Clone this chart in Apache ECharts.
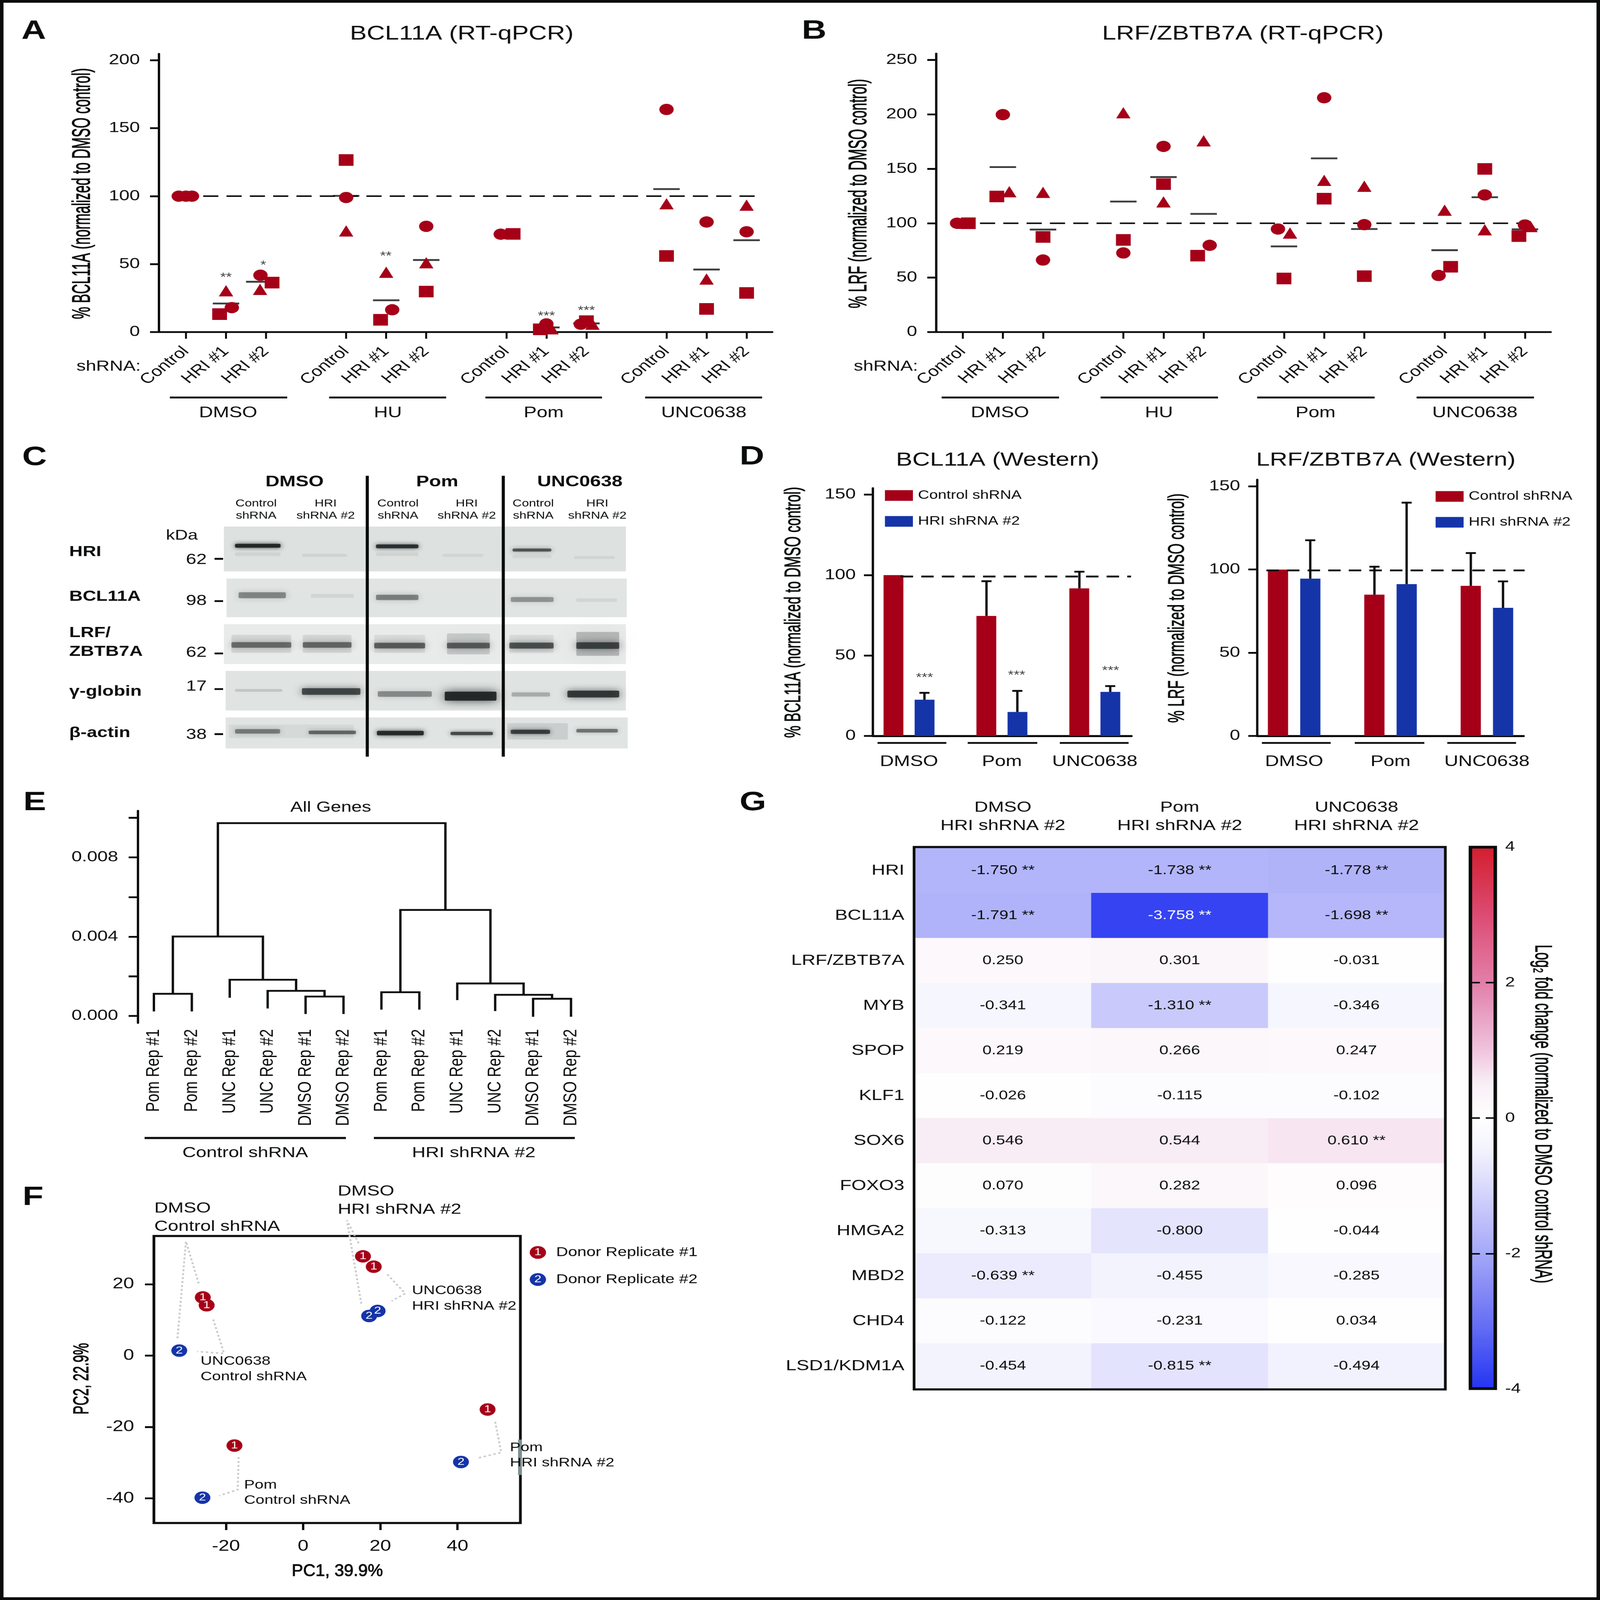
<!DOCTYPE html>
<html><head><meta charset="utf-8">
<style>html,body{margin:0;padding:0;background:#fff;overflow:hidden;width:100%;height:100%}#c{width:4117px;height:5257px;transform-origin:0 0}</style>
<script src="https://cdn.jsdelivr.net/npm/echarts@6/dist/echarts.min.js"></script>
</head><body><div id="c"></div>
<script>
// ---------- DATA ----------
const shLabels = ['Control','HRI #1','HRI #2'];
const qpcrTicks = [0,1,2,4,5,6,8,9,10,12,13,14];
const aCircle = [[-0.18,100],[0,100],[0.15,100],[1.145,18],[1.86,41.8],[4,99],[5.15,16.4],[6,77.8],[7.86,72],[9,6],[9.86,5.8],[12,163.8],[13,81],[14,73.8]];
const aTriangle = [[1,30.4],[1.85,31.4],[4,74.4],[5,44],[6,51],[8,72.4],[9.13,2.4],[10.15,5.8],[12,94.4],[13,39],[14,93.4]];
const aSquare = [[0.84,13.2],[2.15,36.4],[4,126.6],[4.86,9],[6,29.8],[8.17,72.2],[8.85,2],[10,8],[12,56],[13,17],[14,28.8]];
const aMean = [[1,21],[1.83,37],[4,100.2],[5,23.4],[6,53],[9,3.4],[10,6.4],[12,105.2],[13,46],[14,67.6]];
const aStars = [[1,41.6,'**'],[1.93,50.4,'*'],[4.99,57.2,'**'],[9,13.2,'***'],[10,17.2,'***']];
const bCircle = [[-0.14,100],[1,199.8],[2,66.2],[4,72.7],[5,170.6],[6.15,79.7],[7.85,94.7],[9,215.3],[10,98.7],[11.85,52],[13,126],[14,98.4]];
const bTriangle = [[0,100],[1.16,129],[2,128.4],[4,201.5],[5,119.6],[6,175.8],[8.15,91],[9,139.4],[10,134],[12,112],[13,94],[14.14,97]];
const bSquare = [[0.14,100],[0.85,124.6],[2,87.4],[4,84.7],[5,135.9],[5.85,70.2],[8,49.2],[9,122.6],[10,51.4],[12.15,60],[13,149.9],[13.85,88.2]];
const bMean = [[1,151.6],[2,94.2],[4,119.9],[5,142.4],[6,108.6],[8,78.7],[9,159.6],[10,94.7],[12,75.2],[13,123.9],[14,94.4]];
const westernGroups = ['DMSO','Pom','UNC0638'];
const dLeftControl = [100,74.6,91.7];
const dLeftHri = [22.5,14.9,27.4];
const dLeftControlErr = [null,96.2,102.1];
const dLeftHriErr = [26.8,28,31];
const dLeftStars = [[0.167,37.4,'***'],[1.158,38.8,'***'],[2.17,41.8,'***']];
const dRightControl = [100,84.9,90.2];
const dRightHri = [94.5,91.2,77];
const dRightControlErr = [null,101.7,109.9];
const dRightHriErr = [117.6,140.2,92.9];
const leafLabels = ['Pom Rep #1','Pom Rep #2','UNC Rep #1','UNC Rep #2','DMSO Rep #1','DMSO Rep #2','Pom Rep #1','Pom Rep #2','UNC Rep #1','UNC Rep #2','DMSO Rep #1','DMSO Rep #2'];
const dendroMerges = [
 [0,0.00023,1,0.00023,0.00112],[4,0.0001,5,0.0001,0.00098],[3,0.00038,4.5,0.00098,0.00127],[2,0.00092,3.75,0.00127,0.00183],
 [0.5,0.00112,2.875,0.00183,0.00401],[6,0.00032,7,0.00032,0.0012],[10,-0.00004,11,-0.00004,0.00087],[9,0.00025,10.5,0.00087,0.00107],
 [8,0.0008,9.75,0.00107,0.00164],[6.5,0.0012,8.875,0.00164,0.00535],[1.6875,0.00401,7.6875,0.00535,0.00973]];
const pcaDonor1 = [[-26,16.3],[-25,14.1],[15.5,27.8],[18.3,24.9],[47.8,-15.1],[-17.8,-25.2]];
const pcaDonor2 = [[-32.1,1.4],[19.3,12.5],[17.1,11.1],[-26.1,-39.8],[40.9,-29.8]];
const pcaConnectors = [
 [[-27.07,20.23],[-30.37,32],[-32.56,4.87]],[[-23.29,10.11],[-20.49,0.61],[-27.44,1.14]],
 [[14.39,31.48],[11.34,37.87],[15.12,14.3]],[[21.83,22.74],[26.46,17.41],[22.93,15.29]],
 [[49.76,-18.56],[51.34,-27.15],[45,-28.75]],[[-16.71,-28.44],[-16.95,-37.57],[-21.71,-39.24]]];
const heatGenes = ['HRI','BCL11A','LRF/ZBTB7A','MYB','SPOP','KLF1','SOX6','FOXO3','HMGA2','MBD2','CHD4','LSD1/KDM1A'];
const heatCols = ['DMSO\nHRI shRNA #2','Pom\nHRI shRNA #2','UNC0638\nHRI shRNA #2'];
const heatDmso = [-1.750,-1.791,0.250,-0.341,0.219,-0.026,0.546,0.070,-0.313,-0.639,-0.122,-0.454];
const heatPom = [-1.738,-3.758,0.301,-1.310,0.266,-0.115,0.544,0.282,-0.800,-0.455,-0.231,-0.815];
const heatUnc = [-1.778,-1.698,-0.031,-0.346,0.247,-0.102,0.610,0.096,-0.044,-0.285,0.034,-0.494];
const heatSigDmso = [1,1,0,0,0,0,0,0,0,1,0,0];
const heatSigPom = [1,1,0,1,0,0,0,0,0,0,0,1];
const heatSigUnc = [1,1,0,0,0,0,1,0,0,0,0,0];
const heatScale = ['#2534F2','#4753F3','#6A72F4','#888CF6','#A5A9F8','#BFC0FB','#DADAFC','#F2F2FE','#FFFFFF','#F9F0F7','#F0C4DE','#E9A2C4','#E27FA9','#DF668F','#DC4C74','#D83551','#D41E2E'];
const blotRows = [[502,1403,470,680,'#dde1e0'],[508,1405,714,895,'#e0e4e3'],[502,1403,928,1115,'#e8ebea'],[506,1403,1147,1332,'#dfe3e2'],[506,1407,1365,1510,'#e0e4e3']];
const blotBands = [
 [520,636,600,24,.07],[836,945,600,24,.07],[1142,1243,610,24,.05],[670,785,605,20,.07],[985,1090,605,20,.06],[1280,1385,615,20,.06],
 [520,636,560,26,.9],[836,945,563,26,.85],[1142,1243,580,20,.65],
 [528,648,792,40,.42],[690,800,795,26,.07],[836,945,802,36,.45],[1138,1248,812,34,.36],[1285,1390,815,24,.07],
 [512,660,1020,120,.1],[672,795,1020,120,.1],[832,960,1020,120,.08],[995,1105,1020,140,.16],[1135,1248,1020,120,.08],[1285,1395,1020,160,.24],
 [512,660,1025,38,.52],[672,795,1025,38,.54],[832,960,1028,38,.6],[995,1105,1028,38,.58],[1135,1248,1028,40,.66],[1285,1395,1028,44,.7],
 [520,640,1238,18,.14],[670,815,1243,44,.72],[840,975,1255,38,.4],[990,1120,1265,60,.9],[1140,1240,1257,28,.25],[1265,1395,1255,46,.8],
 [506,800,1430,90,.05],[1130,1280,1430,110,.1],
 [520,635,1430,30,.45],[685,805,1435,24,.55],[838,957,1438,30,.88],[1003,1112,1440,22,.7],[1138,1240,1432,28,.75],[1285,1392,1427,24,.5]];

// ---------- STYLE ----------
const FF = '"Liberation Sans"', INK = '#0a0c0c', RED = '#a50018', BLUE = '#1534a8';
const elems = [];
function T(text,x,y,size,o){o=o||{};const st={text,fontSize:size,fontFamily:FF,fontWeight:o.bold?'bold':'normal',fill:o.fill||INK,textAlign:o.align||'center',textVerticalAlign:'middle',align:o.align||'center',verticalAlign:'middle'};
  if(o.heavy){st.stroke=INK;st.lineWidth=o.heavy;}
  elems.push({type:'text',x,y,rotation:o.rot||0,scaleX:o.sx||1,scaleY:o.sy||1,z:100,silent:true,style:st});}
function L(x1,y1,x2,y2,w){elems.push({type:'line',z:100,silent:true,shape:{x1,y1,x2,y2},style:{stroke:INK,lineWidth:w||6}});}
function R(x,y,w,h,fill){elems.push({type:'rect',z:99,silent:true,shape:{x,y,width:w,height:h},style:{fill}});}
const UP = Math.PI/2;

const grids=[],xAxes=[],yAxes=[],series=[];
function addGrid(l,t,r,b){grids.push({left:l,top:t,width:r-l,height:b-t,containLabel:false,outerBoundsMode:'none'});return grids.length-1;}
const axLabel=(size,extra)=>Object.assign({color:INK,fontFamily:FF,fontSize:size},extra||{});
function valueY(g,min,max,vals,fmt,o){o=o||{};yAxes.push({gridIndex:g,type:'value',min,max,position:'left',splitLine:{show:false},
  axisLine:{show:o.line!==false,onZero:false,lineStyle:{color:INK,width:6}},
  axisTick:{show:true,length:o.tick||23,lineStyle:{color:INK,width:6},customValues:o.ticks||vals},
  axisLabel:axLabel(o.size||48,{margin:o.margin||49,customValues:vals,formatter:fmt||(v=>String(v))})});return yAxes.length-1;}

// ---------- PANELS A & B ----------
function qpcr(l,t,r,b,xmin,xmax,ymax,yvals,circ,tri,sq,mean,stars,dash){
  const g=addGrid(l,t,r,b);
  xAxes.push({gridIndex:g,type:'value',min:xmin,max:xmax,position:'bottom',splitLine:{show:false},
    axisLine:{show:true,onZero:false,lineStyle:{color:INK,width:6}},
    axisTick:{show:true,length:22,lineStyle:{color:INK,width:5},customValues:qpcrTicks},
    axisLabel:axLabel(48,{rotate:45,margin:56,customValues:qpcrTicks,formatter:v=>shLabels[qpcrTicks.indexOf(v)%3]})});
  const ya=valueY(g,0,ymax,yvals), xa=xAxes.length-1;
  const s={xAxisIndex:xa,yAxisIndex:ya,silent:true};
  series.push(Object.assign({type:'line',name:'ref',symbol:'none',data:dash,lineStyle:{color:INK,width:5,type:[39,21]},z:2},s));
  series.push(Object.assign({type:'scatter',name:'mean',symbol:'rect',symbolSize:[68,6],data:mean,itemStyle:{color:INK},z:3},s));
  series.push(Object.assign({type:'scatter',name:'triangle',symbol:'triangle',symbolSize:37,data:tri,itemStyle:{color:RED,opacity:1},z:4},s));
  series.push(Object.assign({type:'scatter',name:'square',symbol:'rect',symbolSize:38,data:sq,itemStyle:{color:RED,opacity:1},z:4},s));
  series.push(Object.assign({type:'scatter',name:'circle',symbol:'circle',symbolSize:37,data:circ,itemStyle:{color:RED,opacity:1},z:5},s));
  if(stars)series.push(Object.assign({type:'scatter',name:'sig',symbolSize:1,data:stars,itemStyle:{color:'transparent'},z:6,
    label:{show:true,position:'inside',color:INK,fontFamily:FF,fontSize:38,offset:[0,7],formatter:p=>p.data[2]}},s));
}
qpcr(409,177,1987,1091,-0.6745,14.64,204.7,[0,50,100,150,200],aCircle,aTriangle,aSquare,aMean,aStars,[[0.43,100],[14.36,100]]);
qpcr(2409,176,3990,1091,-0.659,14.64,255.9,[0,50,100,150,200,250],bCircle,bTriangle,bSquare,bMean,null,[[0.43,100],[14.32,100]]);

T('BCL11A (RT-qPCR)',1188,112,65);
T('LRF/ZBTB7A (RT-qPCR)',3198,112,65);
T('% BCL11A (normalized to DMSO control)',213,636,45,{rot:UP,sy:1.42,heavy:1});
T('% LRF (normalized to DMSO control)',2211,636,45.5,{rot:UP,sy:1.42,heavy:1});
T('shRNA:',362,1205,48,{align:'right'});
T('shRNA:',2362,1205,48,{align:'right'});
[[437,739,587,'DMSO'],[847,1148,998,'HU'],[1249,1549,1399,'Pom'],[1660,1961,1811,'UNC0638'],
 [2423,2725,2573,'DMSO'],[2832,3134,2982,'HU'],[3235,3537,3385,'Pom'],[3645,3947,3795,'UNC0638']].forEach(a=>{L(a[0],1306,a[1],1306,6);T(a[3],a[2],1357,50);});

// ---------- PANEL C (blot) ----------
{
  const g=addGrid(576,1730,1615,2459);
  xAxes.push({gridIndex:g,type:'value',min:502,max:1407,show:false});
  yAxes.push({gridIndex:g,type:'value',min:470,max:1510,inverse:true,show:false});
  const xa=xAxes.length-1,ya=yAxes.length-1;
  series.push({type:'custom',name:'blot rows',xAxisIndex:xa,yAxisIndex:ya,silent:true,clip:false,z:1,data:blotRows,
    renderItem:(p,api)=>{const a=api.coord([api.value(0),api.value(2)]),b=api.coord([api.value(1),api.value(3)]);
      return {type:'rect',shape:{x:a[0],y:a[1],width:b[0]-a[0],height:b[1]-a[1]},style:{fill:blotRows[p.dataIndex][4]}};}});
  series.push({type:'custom',name:'blot bands',xAxisIndex:xa,yAxisIndex:ya,silent:true,clip:false,z:2,data:blotBands,
    renderItem:(p,api)=>{const yc=api.value(2),th=api.value(3),a=api.coord([api.value(0),yc-th/2]),b=api.coord([api.value(1),yc+th/2]);
      const c='rgba(25,30,30,'+api.value(4)+')',h=b[1]-a[1],blur=Math.max(14,h*0.7),inset=h*0.15;
      return {type:'rect',shape:{x:a[0]+8,y:a[1]+inset,width:b[0]-a[0]-16,height:Math.max(2,h-2*inset),r:4},style:{fill:c,shadowBlur:blur,shadowColor:c}};}});
}
L(945,1563,945,2486,8);L(1295,1563,1295,2486,8);
T('DMSO',758,1584,50,{bold:true});T('Pom',1125,1584,50,{bold:true});T('UNC0638',1492,1584,50,{bold:true});
[[659,'Control','shRNA'],[838,'HRI','shRNA #2'],[1024,'Control','shRNA'],[1201,'HRI','shRNA #2'],[1372,'Control','shRNA'],[1537,'HRI','shRNA #2']]
 .forEach(a=>{T(a[1],a[0],1655,33);T(a[2],a[0],1695,33);});
T('kDa',468,1760,46);
[[62,1840,1836],[98,1975,1975],[62,2145,2147],[17,2256,2264],[38,2415,2412]].forEach(a=>{T(String(a[0]),532,a[1],48,{align:'right'});L(552,a[2],574,a[2],6);});
[['HRI',1814],['BCL11A',1961],['LRF/',2080],['ZBTB7A',2142],['\u03b3-globin',2273],['\u03b2-actin',2409]].forEach(a=>T(a[0],178,a[1],48,{bold:true,align:'left'}));

// ---------- PANEL D ----------
function western(l,t,r,ymax,ctrl,hri,ctrlErr,hriErr,xmin,xmax,off,gap,bw,dash,stars,legendLeft,legendTop){
  const g=addGrid(l,t,r,2418);
  xAxes.push({gridIndex:g,type:'value',min:xmin,max:xmax,position:'bottom',splitLine:{show:false},
    axisLine:{show:true,onZero:false,lineStyle:{color:INK,width:7}},axisTick:{show:false},
    axisLabel:axLabel(50,{margin:60,customValues:[0,1,2],formatter:v=>westernGroups[v]})});
  const ya=valueY(g,0,ymax,[0,50,100,150],null,{margin:44}), xa=xAxes.length-1;
  const s={xAxisIndex:xa,yAxisIndex:ya,silent:true};
  series.push(Object.assign({type:'bar',name:'Control shRNA',barWidth:bw,barGap:gap,data:ctrl.map((v,i)=>[i,v]),itemStyle:{color:RED},z:2},s));
  series.push(Object.assign({type:'bar',name:'HRI shRNA #2',barWidth:bw,barGap:gap,data:hri.map((v,i)=>[i,v]),itemStyle:{color:BLUE},z:2},s));
  const errs=[];
  ctrl.forEach((v,i)=>{if(ctrlErr[i]!=null)errs.push([i-off,v,ctrlErr[i]]);});
  hri.forEach((v,i)=>{if(hriErr[i]!=null)errs.push([i+off,v,hriErr[i]]);});
  series.push(Object.assign({type:'custom',name:'error',data:errs,z:3,
    renderItem:(p,api)=>{const a=api.coord([api.value(0),api.value(1)]),b=api.coord([api.value(0),api.value(2)]);
      return {type:'group',children:[
        {type:'line',shape:{x1:a[0],y1:a[1],x2:b[0],y2:b[1]},style:{stroke:INK,lineWidth:6}},
        {type:'line',shape:{x1:b[0]-13,y1:b[1],x2:b[0]+13,y2:b[1]},style:{stroke:INK,lineWidth:6}}]};}},s));
  series.push(Object.assign({type:'line',name:'ref',symbol:'none',clip:false,data:dash,lineStyle:{color:INK,width:6,type:[32,21]},z:4},s));
  if(stars)series.push(Object.assign({type:'scatter',name:'sig',symbolSize:1,data:stars,itemStyle:{color:'transparent'},z:6,
    label:{show:true,position:'inside',color:INK,fontFamily:FF,fontSize:38,offset:[0,7],formatter:p=>p.data[2]}},s));
  return {left:legendLeft,top:legendTop,orient:'vertical',padding:0,itemWidth:72,itemHeight:35,itemGap:45,icon:'rect',selectedMode:false,
    data:['Control shRNA','HRI shRNA #2'],textStyle:{color:INK,fontFamily:FF,fontSize:40,padding:[0,0,0,8]}};
}
const legends=[];
legends.push(western(2246,1604,2911,154,dLeftControl,dLeftHri,dLeftControlErr,dLeftHriErr,-0.389,2.393,0.166,'57%',51,[[-0.09,99.1],[2.39,99.1]],dLeftStars,2277,1608));
legends.push(western(3235,1576,3920,154,dRightControl,dRightHri,dRightControlErr,dRightHriErr,-0.383,2.379,0.167,'60%',52,[[-0.288,99.5],[2.41,99.5]],null,3694,1611));
T('BCL11A (Western)',2567,1513,63);
T('LRF/ZBTB7A (Western)',3566,1513,63);
T('% BCL11A (normalized to DMSO control)',2043,2012,45,{rot:UP,sy:1.28,heavy:1});
T('% LRF (normalized to DMSO control)',3030,1998,45.5,{rot:UP,sy:1.28,heavy:1});
[[2258,2435],[2490,2669],[2727,2904],[3247,3424],[3486,3665],[3724,3901]].forEach(a=>L(a[0],2441,a[1],2441,6));

// ---------- PANEL E ----------
{
  const g=addGrid(355,2664,1600,3361);
  const leafIdx=leafLabels.map((_,i)=>i);
  xAxes.push({gridIndex:g,type:'value',min:-0.42,max:12.34,position:'bottom',splitLine:{show:false},
    axisLine:{show:false,onZero:false},axisTick:{show:false},
    axisLabel:axLabel(49,{rotate:90,margin:20,customValues:leafIdx,formatter:v=>leafLabels[v]})});
  const ya=valueY(g,-0.00035,0.01035,[0,0.004,0.008],v=>v.toFixed(3),{margin:51,tick:24,ticks:[0,0.002,0.004,0.006,0.008,0.01]});
  series.push({type:'custom',name:'dendrogram',xAxisIndex:xAxes.length-1,yAxisIndex:ya,silent:true,z:3,data:dendroMerges,
    renderItem:(p,api)=>{const xl=api.value(0),bl=api.value(1),xr=api.value(2),br=api.value(3),t=api.value(4);
      return {type:'polyline',shape:{points:[api.coord([xl,bl]),api.coord([xl,t]),api.coord([xr,t]),api.coord([xr,br])]},
        style:{stroke:INK,lineWidth:6,fill:null,lineJoin:'miter'}};}});
}
T('All Genes',851,2654,48);
L(372,3739,890,3739,7);L(962,3739,1479,3739,7);
T('Control shRNA',631,3789,48.5);T('HRI shRNA #2',1219,3789,48.5);

// ---------- PANEL F ----------
{
  const g=addGrid(396,4061,1339,5004);
  Object.assign(grids[g],{show:true,borderColor:INK,borderWidth:7,backgroundColor:'transparent'});
  xAxes.push({gridIndex:g,type:'value',min:-38.67,max:56.3,position:'bottom',splitLine:{show:false},
    axisLine:{show:false,onZero:false},axisTick:{show:true,length:23,lineStyle:{color:INK,width:6},customValues:[-20,0,20,40]},
    axisLabel:axLabel(50,{margin:52,customValues:[-20,0,20,40],formatter:v=>String(v)})});
  const ya=valueY(g,-46.9,33.5,[-40,-20,0,20],null,{margin:51,line:false,size:50});
  const s={xAxisIndex:xAxes.length-1,yAxisIndex:ya,silent:true};
  pcaConnectors.forEach(c=>series.push(Object.assign({type:'line',name:'link',symbol:'none',clip:false,data:c,lineStyle:{color:'#c6cacd',width:5,type:[6,7]},z:2},s)));
  const marker=(name,data,color,digit)=>series.push(Object.assign({type:'scatter',name,symbol:'circle',symbolSize:41,data,itemStyle:{color,opacity:1},z:4,
    label:{show:true,position:'inside',color:'#fff',fontFamily:FF,fontSize:33,formatter:digit}},s));
  marker('Donor Replicate #1',pcaDonor1,RED,'1');
  marker('Donor Replicate #2',pcaDonor2,BLUE,'2');
}
R(1333,4730,10,116,'#7d8f8f');
[[397,3971,'DMSO',48.5],[397,4031,'Control shRNA',48.5],[869,3915,'DMSO',48.5],[869,3975,'HRI shRNA #2',48.5],
 [1060,4241,'UNC0638',41],[1060,4292,'HRI shRNA #2',41],[516,4473,'UNC0638',41],[516,4524,'Control shRNA',41],
 [1312,4757,'Pom',41],[1312,4807,'HRI shRNA #2',41],[628,4880,'Pom',41],[628,4930,'Control shRNA',41],
 [1431,4115,'Donor Replicate #1',42.5],[1431,4204,'Donor Replicate #2',42.5]].forEach(a=>T(a[2],a[0],a[1],a[3],{align:'left'}));
[[4115,RED,'1'],[4204,BLUE,'2']].forEach(a=>{
  elems.push({type:'circle',z:100,silent:true,shape:{cx:1384,cy:a[0],r:21},style:{fill:a[1]}});
  T(a[2],1384,a[0],33,{fill:'#fff'});});
T('PC1, 39.9%',868,5163,44,{sy:1.25,heavy:1.2});
T('PC2, 22.9%',212,4530,44,{rot:UP,sy:1.25,heavy:1.2});

// ---------- PANEL G ----------
const heatSeriesIndex=(()=>{
  const g=addGrid(2353,2786,3718,4562);
  xAxes.push({gridIndex:g,type:'category',data:heatCols,position:'top',splitLine:{show:false},axisLine:{show:false},axisTick:{show:false},
    axisLabel:axLabel(49,{margin:43,lineHeight:60})});
  yAxes.push({gridIndex:g,type:'category',data:heatGenes,inverse:true,splitLine:{show:false},axisLine:{show:false},axisTick:{show:false},
    axisLabel:axLabel(49,{margin:26})});
  const cols=[heatDmso,heatPom,heatUnc],sig=[heatSigDmso,heatSigPom,heatSigUnc],data=[];
  cols.forEach((c,x)=>c.forEach((v,y)=>data.push({value:[x,y,v],label:{color:v<-3?'#fff':INK},sig:sig[x][y]})));
  series.push({type:'heatmap',name:'fold change',xAxisIndex:xAxes.length-1,yAxisIndex:yAxes.length-1,silent:true,data,z:2,
    label:{show:true,fontFamily:FF,fontSize:42,formatter:p=>p.value[2].toFixed(3)+(p.data.sig?' **':'')}});
  return series.length-1;
})();
{
  const g=addGrid(3788,2783,3843,4564);
  xAxes.push({gridIndex:g,type:'value',show:false,min:0,max:1});
  yAxes.push({gridIndex:g,type:'value',min:-4,max:4,interval:2,position:'right',z:6,axisLine:{show:false},axisTick:{show:false},
    splitLine:{show:true,lineStyle:{color:INK,width:5,type:[20,15]}},
    axisLabel:axLabel(45,{margin:30,formatter:v=>String(v)})});
}
elems.push({type:'rect',z:100,silent:true,shape:{x:2352,y:2783,width:1367,height:1782},style:{fill:null,stroke:INK,lineWidth:7}});
elems.push({type:'rect',z:100,silent:true,shape:{x:3783.5,y:2783.5,width:64,height:1779},style:{fill:null,stroke:INK,lineWidth:9}});
T('Log\u2082 fold change (normalized to DMSO control shRNA)',3968,3660,45.5,{rot:-UP,sy:1.33,heavy:1});

// ---------- PANEL LETTERS AND OUTER FRAME ----------
[['A',55,103],['B',2063,103],['C',57,1504],['D',1903,1502],['E',60,2638],['F',58,3935],['G',1903,2638]].forEach(a=>T(a[0],a[1],a[2],88,{bold:true,align:'left'}));
elems.push({type:'rect',z:101,silent:true,shape:{x:4.5,y:4.5,width:4108,height:5248},style:{fill:null,stroke:INK,lineWidth:9}});

// The figure is laid out on a 4117x5257 page; fit that page to the window it is really shown in.
const host=document.getElementById('c');
host.style.transform='scale('+(window.innerWidth/4117)+','+(window.innerHeight/5257)+')';
const chart=echarts.init(host,null,{renderer:'canvas',width:4117,height:5257});
chart.setOption({animation:false,backgroundColor:'#fff',tooltip:{show:false},grid:grids,xAxis:xAxes,yAxis:yAxes,series,legend:legends,
  visualMap:[{type:'continuous',min:-4,max:4,seriesIndex:heatSeriesIndex,left:3788,top:2783,itemWidth:55,itemHeight:1781,padding:0,
    calculable:false,hoverLink:false,z:4,text:null,textStyle:{fontSize:0},inRange:{color:heatScale}}],
  graphic:{elements:elems}});
</script></body></html>
